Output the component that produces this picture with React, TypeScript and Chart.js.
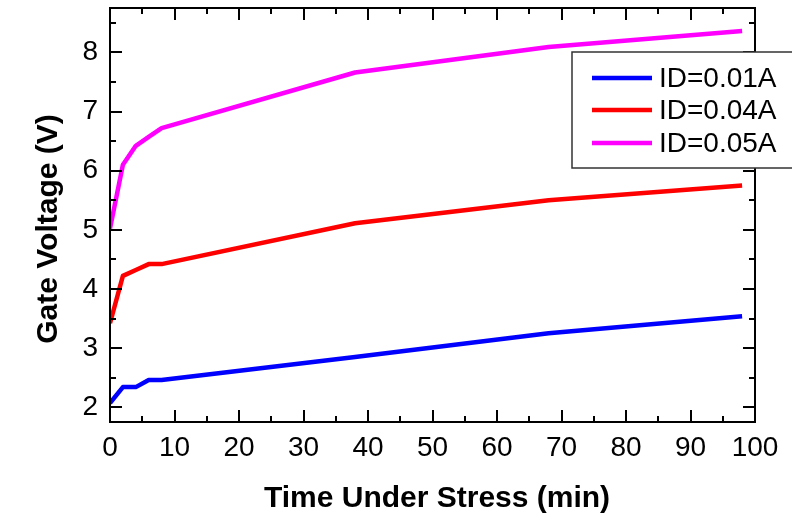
import React, { useEffect, useRef } from "react";
import { Chart, registerables } from "chart.js";

Chart.register(...registerables);

const timeMin = [0, 2, 4, 6, 8, 38, 68, 98];
const vgId001 = [2.07, 2.34, 2.34, 2.46, 2.46, 2.85, 3.25, 3.54];
const vgId004 = [3.42, 4.22, 4.32, 4.42, 4.42, 5.11, 5.5, 5.75];
const vgId005 = [5.02, 6.1, 6.42, 6.57, 6.72, 7.66, 8.09, 8.36];
const seriesLabels = ["ID=0.01A", "ID=0.04A", "ID=0.05A"];
const seriesColors = ["#0000FF", "#FF0000", "#FF00FF"];
const xTicks = [0, 10, 20, 30, 40, 50, 60, 70, 80, 90, 100];
const yTicks = [2, 3, 4, 5, 6, 7, 8];
const xMinorTicks = [5, 15, 25, 35, 45, 55, 65, 75, 85, 95];
const yMinorTicks = [2.5, 3.5, 4.5, 5.5, 6.5, 7.5, 8.5];
const xTitle = "Time Under Stress (min)";
const yTitle = "Gate Voltage (V)";

const FONT = "'Liberation Sans', Arial, Helvetica, sans-serif";

const axesPlugin = {
  id: "originAxes",
  afterDatasetsDraw(chart: any) {
    const { ctx, chartArea } = chart;
    const { left, right, top, bottom } = chartArea;
    const xs = chart.scales.x;
    const ys = chart.scales.y;
    ctx.save();
    ctx.strokeStyle = "#000";
    ctx.lineWidth = 2;
    ctx.strokeRect(left, top, right - left, bottom - top);
    const major = 12;
    const minor = 6;
    ctx.beginPath();
    const xt = (v: number, len: number) => {
      const p = Math.round(xs.getPixelForValue(v));
      ctx.moveTo(p, bottom);
      ctx.lineTo(p, bottom - len);
      ctx.moveTo(p, top);
      ctx.lineTo(p, top + len);
    };
    const yt = (v: number, len: number) => {
      const p = Math.round(ys.getPixelForValue(v));
      ctx.moveTo(left, p);
      ctx.lineTo(left + len, p);
      ctx.moveTo(right, p);
      ctx.lineTo(right - len, p);
    };
    xTicks.forEach((v) => xt(v, major));
    xMinorTicks.forEach((v) => xt(v, minor));
    yTicks.forEach((v) => yt(v, major));
    yMinorTicks.forEach((v) => yt(v, minor));
    ctx.stroke();

    // axis titles
    ctx.fillStyle = "#000";
    ctx.font = `bold 30px ${FONT}`;
    ctx.textAlign = "center";
    ctx.textBaseline = "middle";
    ctx.fillText(xTitle, 437, 499);
    ctx.save();
    ctx.translate(49, 229);
    ctx.rotate(-Math.PI / 2);
    ctx.fillText(yTitle, 0, 0);
    ctx.restore();

    // legend
    const bx = 572, by = 52, bw = 240, bh = 116;
    ctx.fillStyle = "#fff";
    ctx.fillRect(bx, by, bw, bh);
    ctx.strokeStyle = "#333";
    ctx.lineWidth = 1.5;
    ctx.strokeRect(bx, by, bw, bh);
    const rows = [78, 110, 143];
    chart.data.datasets.forEach((ds: any, i: number) => {
      ctx.strokeStyle = ds.borderColor;
      ctx.lineWidth = 4.5;
      ctx.beginPath();
      ctx.moveTo(592, rows[i]);
      ctx.lineTo(652, rows[i]);
      ctx.stroke();
      ctx.fillStyle = "#000";
      ctx.font = `28px ${FONT}`;
      ctx.textAlign = "left";
      ctx.textBaseline = "middle";
      ctx.fillText(ds.label, 659, rows[i] + 1);
    });
    ctx.restore();
  },
};

export default function App() {
  const canvasRef = useRef<HTMLCanvasElement | null>(null);

  useEffect(() => {
    const canvas = canvasRef.current;
    if (!canvas) return;
    const series = [vgId001, vgId004, vgId005];
    const chart = new Chart(canvas, {
      type: "line",
      data: {
        datasets: series.map((vals, i) => ({
          label: seriesLabels[i],
          data: timeMin.map((t, j) => ({ x: t, y: vals[j] })),
          borderColor: seriesColors[i],
          backgroundColor: seriesColors[i],
          borderWidth: 4.5,
          pointRadius: 0,
          tension: 0,
          borderJoinStyle: "round",
          fill: false,
        })),
      },
      options: {
        responsive: false,
        animation: false,
        layout: { padding: { left: 0, right: 37, top: 8, bottom: 0 } },
        plugins: {
          legend: { display: false },
          tooltip: { enabled: false },
        },
        scales: {
          x: {
            type: "linear",
            min: 0,
            max: 100,
            grid: { display: false, drawTicks: false },
            border: { display: false },
            afterBuildTicks: (s: any) => {
              s.ticks = xTicks.map((v) => ({ value: v }));
            },
            afterFit: (s: any) => {
              s.height = 98;
              s.paddingLeft = 0;
              s.paddingRight = 0;
            },
            ticks: {
              color: "#000",
              padding: 9,
              maxRotation: 0,
              autoSkip: false,
              font: { family: FONT, size: 28 },
            },
          },
          y: {
            type: "linear",
            min: 1.75,
            max: 8.75,
            grid: { display: false, drawTicks: false },
            border: { display: false },
            afterBuildTicks: (s: any) => {
              s.ticks = yTicks.map((v) => ({ value: v }));
            },
            afterFit: (s: any) => {
              s.width = 110;
              s.paddingTop = 0;
              s.paddingBottom = 0;
            },
            ticks: {
              color: "#000",
              padding: 12,
              autoSkip: false,
              font: { family: FONT, size: 28 },
            },
          },
        },
      } as any,
      plugins: [axesPlugin],
    });
    return () => chart.destroy();
  }, []);

  return (
    <div style={{ position: "absolute", left: 0, top: 0, width: 792, height: 520, background: "#fff" }}>
      <canvas ref={canvasRef} width={792} height={520} style={{ width: 792, height: 520 }} />
    </div>
  );
}
